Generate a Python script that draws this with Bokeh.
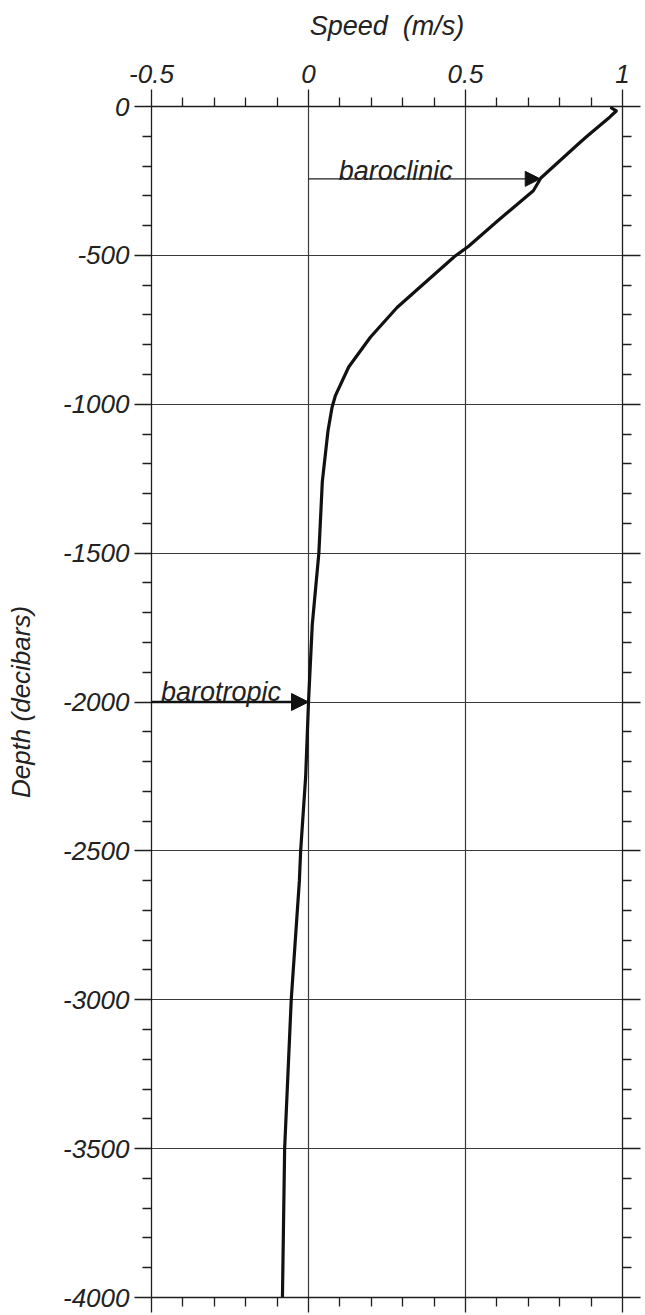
from bokeh.plotting import figure
from bokeh.models import LinearAxis, FixedTicker, Range1d, Arrow, NormalHead, Label, Grid, CustomJSTickFormatter
from bokeh.embed import file_html
from bokeh.resources import INLINE

# ---- data ----
depth = [-5, -15, -35, -100, -125, -240, -283, -386, -470, -503, -585, -675, -775, -875,
         -970, -1010, -1090, -1260, -1500, -1740, -2000, -2250, -2500, -2600, -3000, -3500, -4000]
speed = [0.965, 0.98, 0.96, 0.887, 0.86, 0.74, 0.716, 0.60, 0.509, 0.466, 0.378, 0.282, 0.197, 0.128,
         0.086, 0.075, 0.062, 0.044, 0.033, 0.012, 0.0, -0.009, -0.025, -0.029, -0.055, -0.076, -0.083]

x_major = [-0.5, 0, 0.5, 1]
x_minor = [-0.4, -0.3, -0.2, -0.1, 0.1, 0.2, 0.3, 0.4, 0.6, 0.7, 0.8, 0.9]
y_major = [0, -500, -1000, -1500, -2000, -2500, -3000, -3500, -4000]
y_minor = [-d for d in range(100, 4000, 100) if d % 500 != 0]
x_grid = [0, 0.5]
y_grid = [-500, -1000, -1500, -2000, -2500, -3000, -3500]

baroclinic_depth = -243
baroclinic_from, baroclinic_to = 0.0, 0.738
barotropic_depth = -2000
barotropic_from, barotropic_to = -0.5, 0.0

FONT = "Liberation Sans"
INK = "#1e1e1e"
GRID = "#3a3a3a"
TXT = "#222222"

p = figure(width=645, height=1315, x_range=Range1d(-0.5, 1), y_range=Range1d(-4000, 0),
           output_backend="svg", toolbar_location=None,
           x_axis_location=None, y_axis_location=None,
           min_border_left=151, min_border_top=106, min_border_right=23, min_border_bottom=18)
p.outline_line_color = None
p.background_fill_color = "white"
p.border_fill_color = "white"
p.center = []

xt = FixedTicker(ticks=x_major, minor_ticks=x_minor)
yt = FixedTicker(ticks=y_major, minor_ticks=y_minor)

def style(ax, major_out, minor_out):
    ax.axis_line_color = INK
    ax.axis_line_width = 1.3
    ax.major_tick_line_color = INK
    ax.minor_tick_line_color = INK
    ax.major_tick_line_width = 1.3
    ax.minor_tick_line_width = 1.3
    ax.major_tick_in = 0
    ax.minor_tick_in = 0
    ax.major_tick_out = major_out
    ax.minor_tick_out = minor_out
    ax.major_label_text_font = FONT
    ax.major_label_text_font_style = "italic"
    ax.major_label_text_font_size = "26px"
    ax.major_label_text_color = TXT
    ax.axis_label_text_font = FONT
    ax.axis_label_text_font_style = "italic"
    ax.axis_label_text_font_size = "26px"
    ax.axis_label_text_color = TXT

top = LinearAxis(ticker=xt, axis_label="Speed\u00a0\u00a0(m/s)",
                 formatter=CustomJSTickFormatter(code="return tick.toString();"))
style(top, 17, 9)
top.axis_label_text_font_size = "27px"
top.major_label_standoff = 7
top.axis_label_standoff = 21
p.add_layout(top, "above")

left = LinearAxis(ticker=yt, axis_label="Depth (decibars)",
                  formatter=CustomJSTickFormatter(code="return tick.toFixed(0);"))
style(left, 17, 9)
left.major_label_standoff = 5
left.axis_label_standoff = 24
p.add_layout(left, "left")

blank = CustomJSTickFormatter(code="return '';")

bottom = LinearAxis(ticker=xt, formatter=blank)
style(bottom, 15, 9)
bottom.major_label_standoff = 0
bottom.major_label_text_font_size = "0px"
p.add_layout(bottom, "below")

right = LinearAxis(ticker=yt, formatter=blank)
style(right, 18, 9)
right.major_label_standoff = 0
right.major_label_text_font_size = "0px"
p.add_layout(right, "right")

p.add_layout(Grid(dimension=0, ticker=FixedTicker(ticks=x_grid), grid_line_color=GRID, grid_line_width=1.2))
p.add_layout(Grid(dimension=1, ticker=FixedTicker(ticks=y_grid), grid_line_color=GRID, grid_line_width=1.2))

p.line(speed, depth, line_width=3.2, color="#111111", line_join="round", line_cap="round")

p.add_layout(Arrow(end=NormalHead(size=15, fill_color="#111111", fill_alpha=1.0,
                                  line_color="#111111", line_width=1),
                   x_start=baroclinic_from, y_start=baroclinic_depth,
                   x_end=baroclinic_to, y_end=baroclinic_depth,
                   line_color=INK, line_width=1.3))
p.add_layout(Arrow(end=NormalHead(size=17, fill_color="#111111", fill_alpha=1.0,
                                  line_color="#111111", line_width=1),
                   x_start=barotropic_from, y_start=barotropic_depth,
                   x_end=barotropic_to, y_end=barotropic_depth,
                   line_color="#111111", line_width=2.6))

p.add_layout(Label(x=0.096, y=-216, text="baroclinic", text_font=FONT, text_font_style="italic",
                   text_font_size="27px", text_color=TXT, text_baseline="alphabetic"))
p.add_layout(Label(x=-0.47, y=-1967, text="barotropic", text_font=FONT, text_font_style="italic",
                   text_font_size="27px", text_color=TXT, text_baseline="alphabetic"))

open("out.html", "w").write(file_html(p, INLINE))
